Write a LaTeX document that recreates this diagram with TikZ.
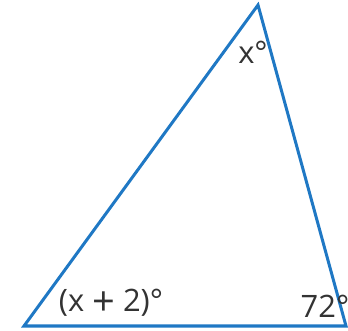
\documentclass[tikz,border=0pt]{standalone}
\usepackage{fontspec}
\setmainfont{Open Sans}
\usetikzlibrary{positioning}
\definecolor{edgeblue}{HTML}{1F78C4}
\definecolor{labgray}{HTML}{333333}

\begin{document}
\begin{tikzpicture}[
    x=1bp, y=1bp,
    side/.style={draw=edgeblue, line width=3bp, line join=miter},
    ang/.style={text=labgray, font=\fontsize{31}{32}\selectfont, inner sep=0pt}
]
\useasboundingbox (0,0) rectangle (348,331);
% vertices
\coordinate (A) at (24,5);
\coordinate (B) at (258,326);
\coordinate (C) at (346,5);
\draw[side] (A) -- (B) -- (C) -- cycle;
% angle labels
\node[ang] (xa) at (253,279) {x\textdegree};
\node[ang] (xb) at (111,28) {(x \raisebox{-3.5bp}{\fontsize{40}{40}\selectfont+} 2)\textdegree};
\node[ang] (xc) at (325,25) {72\textdegree};
\end{tikzpicture}
\end{document}
